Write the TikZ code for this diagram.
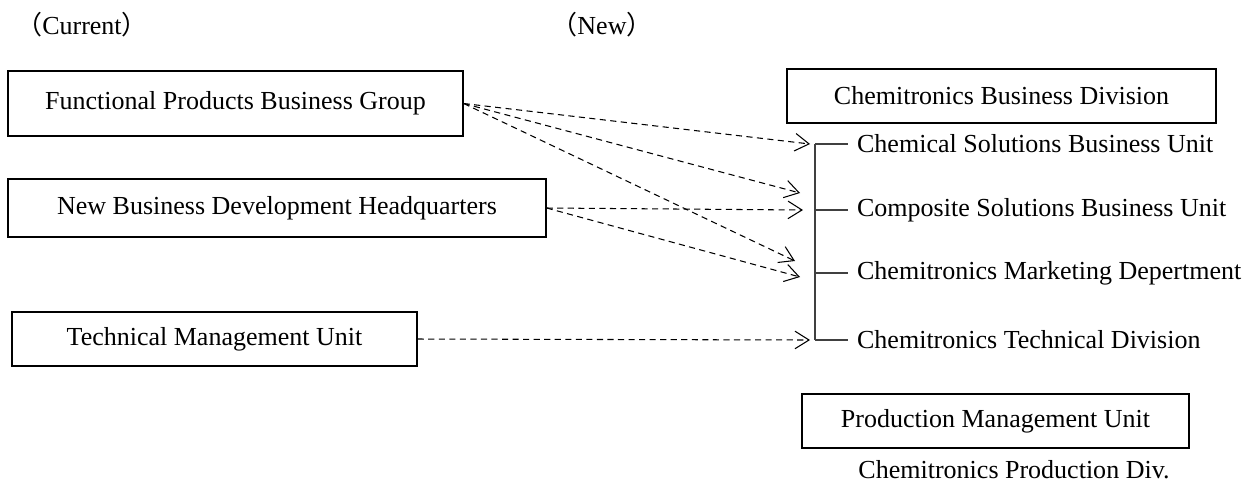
\documentclass[tikz,border=0pt]{standalone}
\usepackage{fontspec}
\setmainfont{Liberation Serif}
\newfontfamily\cjk{Noto Sans CJK JP}
\usetikzlibrary{arrows.meta}

\begin{document}
\begin{tikzpicture}[x=0.02cm,y=-0.02cm,font=\fontsize{14.8}{17}\selectfont]
        \tikzstyle{unit}=[draw,line width=0.8pt,inner sep=0pt,text centered]
        \tikzstyle{item}=[anchor=west,inner sep=5pt]
        \tikzstyle{spine}=[draw=black!75,line width=0.8pt]
        \tikzstyle{move}=[->,>={Straight Barb[length=8pt,width=10pt]},
            dash pattern=on 3.5pt off 2.5pt,line width=0.6pt]

        \useasboundingbox (0,0) rectangle (1256,485);

        % Headings
        \node (cur) at (82,25) {{\cjk （}Current{\cjk ）}};
        \node (new) at (602,25) {{\cjk （}New{\cjk ）}};

        % Current organisation
        \node[unit,minimum width=9.1cm,minimum height=1.3cm]
            (FP) at (235.5,103.5) {Functional Products Business Group};
        \node[unit,minimum width=10.76cm,minimum height=1.16cm]
            (NB) at (277,208) {New Business Development Headquarters};
        \node[unit,minimum width=8.1cm,minimum height=1.08cm]
            (TM) at (214.5,339) {Technical Management Unit};

        % New organisation
        \node[unit,minimum width=8.58cm,minimum height=1.08cm]
            (CBD) at (1001.5,96) {Chemitronics Business Division};
        \node[unit,minimum width=7.74cm,minimum height=1.08cm]
            (PMU) at (995.5,421) {Production Management Unit};
        \node (PD) at (1014,470) {Chemitronics Production Div.};

        % Units under the new division
        \foreach \id / \y / \txt in {1/144/Chemical Solutions Business Unit,
                2/210/Composite Solutions Business Unit,
                3/273/Chemitronics Marketing Depertment,
                4/340/Chemitronics Technical Division}
        {
            \node[item] (S-\id) at (848,\y) {\txt};
            \coordinate (B-\id) at (815,\y);
        }

        % Bracket joining the units
        \draw[spine] (B-1) -- (B-4);
        \foreach \id in {1,...,4}
            \draw[spine] (B-\id) -- (S-\id.west);

        % Arrow ends
        \coordinate (T-1) at (810,144);
        \coordinate (T-2) at (800,193);
        \coordinate (T-3) at (795,261);
        \coordinate (T-4) at (803,210);
        \coordinate (T-5) at (800,277);
        \coordinate (T-6) at (810,340);

        % Moves from current to new
        \foreach \dest in {1,2,3}
            \draw[move] (FP.east) -- (T-\dest);
        \foreach \dest in {4,5}
            \draw[move] (NB.east) -- (T-\dest);
        \draw[move] (TM.east) -- (T-6);
    \end{tikzpicture}
\end{document}
